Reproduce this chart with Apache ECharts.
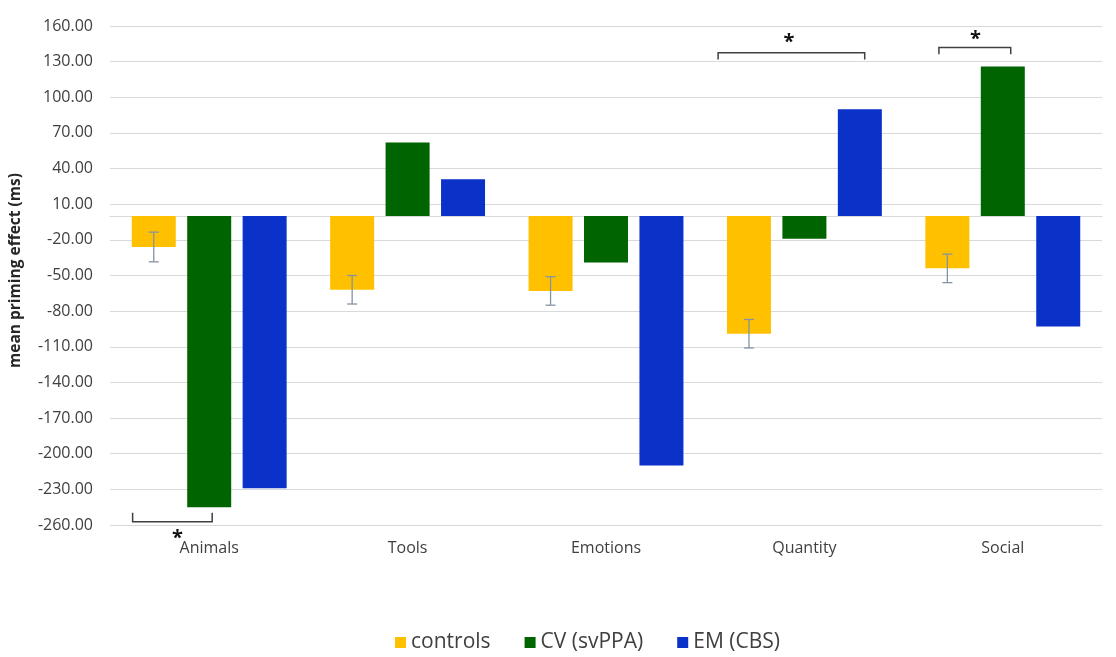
<!DOCTYPE html>
<html>
<head>
<meta charset="utf-8">
<title>Mean priming effect</title>
<script src="https://cdn.jsdelivr.net/npm/echarts@6/dist/echarts.min.js"></script>
<style>
  html, body { margin: 0; padding: 0; background: #ffffff; }
  #chart { width: 1116px; height: 657px; }
</style>
</head>
<body>
<div id="chart"></div>
<script>
// Categories and group means (ms)
var categories = ['Animals', 'Tools', 'Emotions', 'Quantity', 'Social'];
var controls = [-26, -62, -63, -99, -44];
var cvSvppa = [-245, 62, -39, -19, 126];
var emCbs = [-229, 31, -210, 90, -93];
// Half-length of the controls error bars (ms)
var controlsError = [12.5, 12, 12, 12, 12];

// Y axis range and step
var yMin = -260;
var yMax = 160;
var yStep = 30;

// Significance brackets: category, left and right ends (fraction of the band
// from its centre), bar height, end-tick height, star x (fraction), star height
var brackets = [
  ['Animals', -0.386, 0.015, -257.3, -249.6, -0.16, -271.5],
  ['Quantity', -0.435, 0.304, 137.5, 131.9, -0.078, 146.5],
  ['Social', -0.322, 0.04, 142.0, 136.3, -0.138, 148.5]
];

var BAR_WIDTH = 44;
var BAR_GAP = 0.26;
var FONT = '"Open Sans", "DejaVu Sans", sans-serif';

var chart = echarts.init(document.getElementById('chart'), null, { renderer: 'canvas' });

var errorData = categories.map(function (c, i) {
  return [i, controls[i] - controlsError[i], controls[i] + controlsError[i]];
});

var bracketData = brackets.map(function (b) {
  return [categories.indexOf(b[0]), b[3], b[1], b[2], b[4], b[5], b[6]];
});

var option = {
  animation: false,
  backgroundColor: '#ffffff',
  grid: { left: 110, right: 14, top: 26, bottom: 132, containLabel: false },
  legend: {
    left: 390,
    top: 627,
    icon: 'rect',
    itemWidth: 11,
    itemHeight: 11,
    itemGap: 34,
    textStyle: { fontFamily: FONT, fontSize: 21, color: '#404040', padding: [0, 0, 0, 0] },
    data: ['controls', 'CV (svPPA)', 'EM (CBS)']
  },
  xAxis: [
    {
      type: 'category',
      data: categories,
      position: 'bottom',
      axisLine: { show: false, onZero: false },
      axisTick: { show: false },
      axisLabel: { fontFamily: FONT, fontSize: 16, color: '#404040', margin: 15 },
      splitLine: { show: false }
    },
    {
      // horizontal line through zero
      type: 'category',
      data: categories,
      position: 'bottom',
      axisLine: { show: true, onZero: true, lineStyle: { color: '#d9d9d9', width: 1 } },
      axisTick: { show: false },
      axisLabel: { show: false },
      splitLine: { show: false }
    }
  ],
  yAxis: {
    type: 'value',
    min: yMin,
    max: yMax,
    interval: yStep,
    name: 'mean priming effect (ms)',
    nameLocation: 'middle',
    nameGap: 86,
    nameTextStyle: {
      fontFamily: FONT, fontSize: 15.5, fontWeight: 'bold', color: '#262626',
      padding: [0, 0, 0, 10]
    },
    axisLine: { show: false },
    axisTick: { show: false },
    axisLabel: {
      fontFamily: FONT, fontSize: 16, color: '#404040', margin: 17,
      formatter: function (v) { return v.toFixed(2); }
    },
    splitLine: { show: true, lineStyle: { color: '#d9d9d9', width: 1 } }
  },
  series: [
    {
      name: 'controls', type: 'bar', data: controls,
      barWidth: BAR_WIDTH, barGap: (BAR_GAP * 100) + '%',
      itemStyle: { color: '#FFC000' }
    },
    {
      name: 'CV (svPPA)', type: 'bar', data: cvSvppa,
      barWidth: BAR_WIDTH, barGap: (BAR_GAP * 100) + '%',
      itemStyle: { color: '#006400' }
    },
    {
      name: 'EM (CBS)', type: 'bar', data: emCbs,
      barWidth: BAR_WIDTH, barGap: (BAR_GAP * 100) + '%',
      itemStyle: { color: '#0A31C8' }
    },
    {
      // error bars on the controls bars
      name: 'controls error', type: 'custom', z: 5, silent: true,
      data: errorData,
      encode: { x: 0, y: [1, 2] },
      renderItem: function (params, api) {
        var idx = api.value(0);
        var lo = api.coord([idx, api.value(1)]);
        var hi = api.coord([idx, api.value(2)]);
        var x = lo[0] - (BAR_WIDTH + BAR_WIDTH * BAR_GAP);
        var cap = 5;
        var style = { stroke: '#8593a3', lineWidth: 1.3, fill: null };
        return {
          type: 'group',
          children: [
            { type: 'line', shape: { x1: x, y1: lo[1], x2: x, y2: hi[1] }, style: style },
            { type: 'line', shape: { x1: x - cap, y1: lo[1], x2: x + cap, y2: lo[1] }, style: style },
            { type: 'line', shape: { x1: x - cap, y1: hi[1], x2: x + cap, y2: hi[1] }, style: style }
          ]
        };
      }
    },
    {
      // significance brackets with stars
      name: 'significance', type: 'custom', z: 6, silent: true, clip: false,
      data: bracketData,
      encode: { x: 0, y: 1 },
      renderItem: function (params, api) {
        var idx = api.value(0);
        var band = api.size([1, 0])[0];
        var lineY = api.coord([idx, api.value(1)]);
        var tickY = api.coord([idx, api.value(4)])[1];
        var starY = api.coord([idx, api.value(6)])[1];
        var cx = lineY[0];
        var x0 = cx + api.value(2) * band;
        var x1 = cx + api.value(3) * band;
        var sx = cx + api.value(5) * band;
        return {
          type: 'group',
          children: [
            {
              type: 'polyline',
              shape: { points: [[x0, tickY], [x0, lineY[1]], [x1, lineY[1]], [x1, tickY]] },
              style: { stroke: '#404040', lineWidth: 1.5, fill: null }
            },
            {
              type: 'text',
              style: {
                x: sx, y: starY, text: '*', fill: '#111111',
                font: 'bold 20px ' + FONT, align: 'center', verticalAlign: 'middle'
              }
            }
          ]
        };
      }
    }
  ]
};

chart.setOption(option);
</script>
</body>
</html>
